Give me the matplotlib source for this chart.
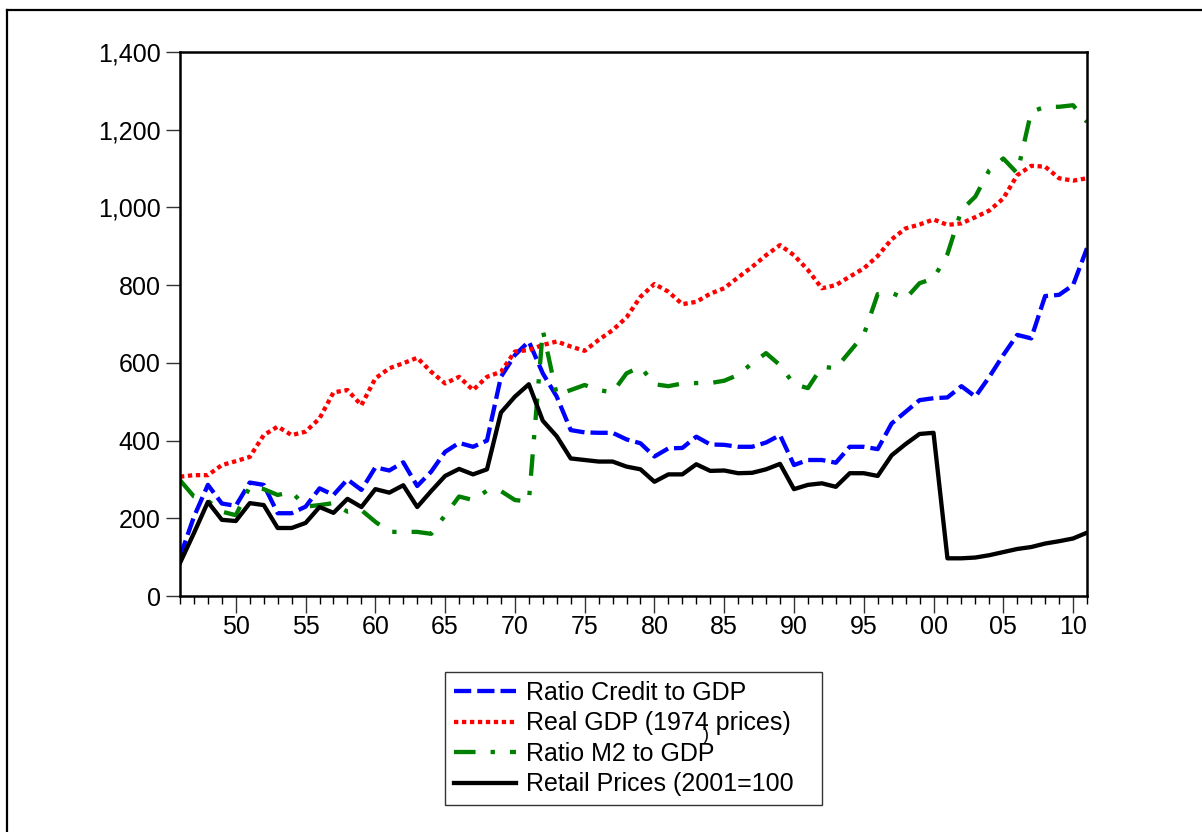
import matplotlib
matplotlib.use('Agg')
import matplotlib.pyplot as plt
from matplotlib.lines import Line2D
from matplotlib.ticker import FuncFormatter, MultipleLocator
import numpy as np

plt.rcParams['font.family'] = ['Liberation Sans', 'DejaVu Sans']

years = np.arange(1946, 2012)

credit_gdp = [101, 204, 286, 238, 232, 292, 286, 213, 213, 230,
              277, 260, 300, 273, 331, 323, 344, 283, 320, 371,
              394, 384, 400, 564, 620, 655, 573, 513, 427, 421,
              420, 420, 403, 393, 359, 380, 381, 410, 390, 389,
              384, 384, 395, 414, 337, 350, 350, 343, 384, 384,
              378, 444, 474, 504, 509, 511, 540, 513, 564, 620,
              672, 663, 772, 775, 800, 895]

real_gdp = [307, 311, 311, 337, 347, 358, 414, 436, 414, 423,
            457, 524, 530, 491, 560, 586, 599, 613, 577, 547,
            564, 530, 564, 577, 629, 633, 646, 655, 642, 631,
            659, 684, 717, 770, 803, 783, 751, 757, 778, 792,
            820, 847, 877, 903, 877, 839, 792, 800, 822, 843,
            875, 918, 946, 956, 969, 955, 959, 975, 992, 1023,
            1083, 1107, 1105, 1075, 1069, 1075]

m2_gdp = [298, 256, 245, 217, 208, 281, 275, 260, 268, 230,
          234, 239, 217, 221, 191, 165, 165, 165, 160, 208,
          256, 247, 271, 270, 247, 243, 684, 517, 530, 543,
          530, 524, 573, 590, 545, 540, 547, 548, 548, 554,
          569, 599, 625, 594, 545, 535, 590, 586, 629, 672,
          777, 780, 765, 805, 817, 880, 993, 1028, 1096, 1126,
          1088, 1246, 1259, 1259, 1263, 1220]

retail_prices = [85, 162, 242, 196, 193, 239, 234, 175, 175, 188,
                 229, 214, 250, 229, 275, 266, 285, 229, 270, 309,
                 327, 313, 326, 472, 513, 545, 451, 411, 354, 350,
                 346, 346, 333, 326, 294, 313, 313, 339, 322, 323,
                 316, 317, 326, 340, 275, 286, 290, 281, 316, 316,
                 309, 362, 391, 417, 420, 97, 97, 99, 105, 113,
                 121, 126, 135, 141, 148, 163]

labels = ['Ratio Credit to GDP', 'Real GDP (1974 prices)',
          'Ratio M2 to GDP', 'Retail Prices (2001=100']

fig = plt.figure(figsize=(12.02, 8.32), dpi=100)
ax = fig.add_axes([180 / 1202, 1 - 596 / 832, 907 / 1202, 544 / 832])

lw = 3.1
ax.plot(years, credit_gdp, color='#0000ff', lw=lw, dashes=(4.0, 1.4), label=labels[0])
ax.plot(years, real_gdp, color='#ff0000', lw=lw, dashes=(1, 0.85), label=labels[1])
ax.plot(years, m2_gdp, color='#008000', lw=lw, dashes=(5, 3.5, 1, 3.5), label=labels[2])
ax.plot(years, retail_prices, color='black', lw=lw, label=labels[3])

ax.set_xlim(1946, 2011)
ax.set_ylim(0, 1400)
ax.yaxis.set_major_locator(MultipleLocator(200))
ax.yaxis.set_major_formatter(FuncFormatter(lambda v, p: f'{int(v):,}'))
ax.set_xticks(np.arange(1950, 2012, 5))
ax.set_xticklabels([f'{y % 100:02d}' for y in range(1950, 2012, 5)])
ax.xaxis.set_minor_locator(MultipleLocator(1))

ax.tick_params(axis='both', labelsize=18, direction='out', width=1, colors='#333333',
               labelcolor='black')
ax.tick_params(axis='x', which='major', length=12, pad=2)
ax.tick_params(axis='x', which='minor', length=6, width=1)
ax.tick_params(axis='y', length=10, pad=4)
for s in ax.spines.values():
    s.set_linewidth(1.8)

leg = ax.legend(loc='upper left',
                bbox_to_anchor=(445 / 1202, 1 - 672 / 832, 377 / 1202, 0),
                bbox_transform=fig.transFigure, mode='expand', fontsize=18,
                frameon=True, fancybox=False, handlelength=2.5, handletextpad=0.4,
                labelspacing=0.26, borderpad=0.35, borderaxespad=0)
leg.get_frame().set_edgecolor('black')
leg.get_frame().set_linewidth(1.0)

# stray bracket in the legend of the original (sits in the gap before "prices")
fig.text(706 / 1202, 1 - 735 / 832, ')', fontsize=13, ha='center', va='center')

# outer frame
fig.add_artist(Line2D([7 / 1202, 7 / 1202], [0, 1 - 10 / 832], color='black', lw=1.6))
fig.add_artist(Line2D([7 / 1202, 1], [1 - 10 / 832, 1 - 10 / 832], color='black', lw=1.6))

fig.savefig('out.png', dpi=100)
